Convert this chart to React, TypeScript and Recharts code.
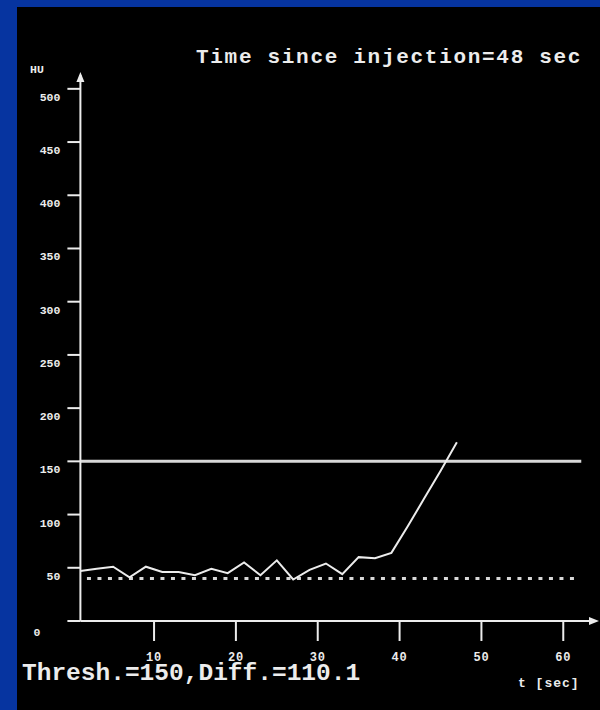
import { LineChart, Line, XAxis, YAxis, ReferenceLine, ReferenceDot } from "recharts";

// sample times (sec) and enhancement (HU)
const times = [1, 3, 5, 7, 9, 11, 13, 15, 17, 19, 21, 23, 25, 27, 29, 31, 33, 35, 37, 39, 41, 43, 45, 47];
const huValues = [47, 49, 51, 41, 51, 46, 46, 43, 49, 45, 55, 43, 57, 39, 48, 54, 44, 60, 59, 64, 89, 115, 141, 168];

const xTicks = [10, 20, 30, 40, 50, 60];
const yTicks = [0, 50, 100, 150, 200, 250, 300, 350, 400, 450, 500];

const threshold = 150;
const baseline = 39.9;
const diff = 110.1;
const injectionTime = 48;

const data = times.map((t, i) => ({ t, hu: huValues[i] }));

const MONO = "'Liberation Mono', 'DejaVu Sans Mono', monospace";
const WHITE = "#ececec";

const YTick = ({ x, y, payload }: any) => {
  const isZero = payload.value === 0;
  return (
    <text
      x={isZero ? x - 25 : x - 5}
      y={isZero ? y + 15 : y + 12}
      textAnchor="end"
      fill={WHITE}
      fontFamily={MONO}
      fontSize={11.5}
      fontWeight="bold"
    >
      {payload.value}
    </text>
  );
};

const XTick = ({ x, y, payload }: any) => (
  <text x={x} y={y + 18} textAnchor="middle" fill={WHITE} fontFamily={MONO} fontSize={12} fontWeight="bold" letterSpacing={0.8}>
    {payload.value}
  </text>
);

const UpArrow = ({ cx, cy }: any) => (
  <polygon points={`${cx},${cy - 3} ${cx - 4},${cy + 7} ${cx + 4},${cy + 7}`} fill={WHITE} />
);

const RightArrow = ({ cx, cy }: any) => (
  <polygon points={`${cx + 3},${cy} ${cx - 7},${cy - 4} ${cx - 7},${cy + 4}`} fill={WHITE} />
);

export default function App() {
  return (
    <div style={{ position: "absolute", left: 0, top: 0, width: 600, height: 710, background: "#0634a0" }}>
      <div style={{ position: "absolute", left: 17, top: 7, right: 0, bottom: 0, background: "#000" }} />
      <div style={{ position: "absolute", left: 0, top: 0 }}>
        <LineChart width={600} height={710} data={data} margin={{ top: 75, right: 4, left: 0, bottom: 49 }}>
          <XAxis
            dataKey="t"
            type="number"
            domain={[1, 64]}
            ticks={xTicks}
            allowDataOverflow
            tickSize={20}
            height={40}
            axisLine={{ stroke: WHITE, strokeWidth: 2 }}
            tickLine={{ stroke: WHITE, strokeWidth: 2 }}
            tick={<XTick />}
          />
          <YAxis
            type="number"
            domain={[0, 513]}
            ticks={yTicks}
            allowDataOverflow
            width={80.4}
            tickSize={13}
            axisLine={{ stroke: WHITE, strokeWidth: 2 }}
            tickLine={{ stroke: WHITE, strokeWidth: 2 }}
            tick={<YTick />}
          />
          <ReferenceLine
            segment={[{ x: 1, y: threshold }, { x: 62.2, y: threshold }]}
            stroke="#d8d8d8"
            strokeWidth={3}
          />
          <ReferenceLine
            segment={[{ x: 1.8, y: baseline }, { x: 61.6, y: baseline }]}
            stroke="#d8d8d8"
            strokeWidth={3}
            strokeDasharray="4 6.5"
          />
          <Line
            dataKey="hu"
            type="linear"
            stroke={WHITE}
            strokeWidth={2}
            dot={false}
            isAnimationActive={false}
          />
          <ReferenceDot x={1} y={513} ifOverflow="visible" shape={<UpArrow />} />
          <ReferenceDot x={64} y={0} ifOverflow="visible" shape={<RightArrow />} />
        </LineChart>
      </div>
      <svg width={600} height={710} style={{ position: "absolute", left: 0, top: 0, pointerEvents: "none" }}>
        <text x={196} y={63} fill={WHITE} fontFamily={MONO} fontSize={21} fontWeight="bold" letterSpacing={1.7}>
          {`Time since injection=${injectionTime} sec`}
        </text>
        <text x={30} y={73} fill={WHITE} fontFamily={MONO} fontSize={11.5} fontWeight="bold">
          HU
        </text>
        <text x={22} y={680} fill={WHITE} fontFamily={MONO} fontSize={24.5} fontWeight="bold">
          {`Thresh.=${threshold},Diff.=${diff}`}
        </text>
        <text x={518} y={687} fill={WHITE} fontFamily={MONO} fontSize={13} fontWeight="bold" letterSpacing={1}>
          t [sec]
        </text>
      </svg>
    </div>
  );
}
